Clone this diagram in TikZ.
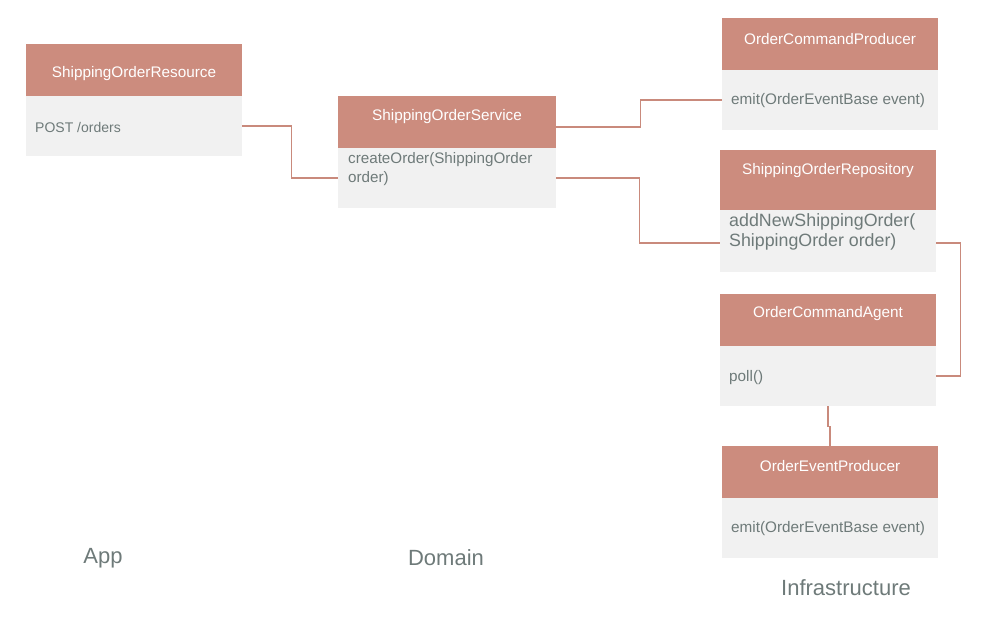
\documentclass[tikz,border=0pt]{standalone}
\usepackage{fontspec}
\setmainfont{Liberation Sans}
\usepackage{tikz}

\definecolor{headred}{HTML}{CC8C7E}
\definecolor{bodygrey}{HTML}{F1F1F1}
\definecolor{textgrey}{HTML}{6E7A79}
\definecolor{linkred}{HTML}{C98A7C}

\begin{document}
\begin{tikzpicture}[x=1pt,y=-1pt,
    head/.style={fill=headred,draw=none,anchor=north west,inner sep=0pt,minimum width=216pt},
    body/.style={fill=bodygrey,draw=none,anchor=north west,inner sep=0pt,minimum width=216pt},
    title/.style={text=white,font=\fontsize{15.3}{17}\selectfont},
    member/.style={text=textgrey,anchor=west,align=left,inner sep=0pt,font=\fontsize{14}{16}\selectfont},
    layer/.style={text=textgrey,font=\fontsize{22}{24}\selectfont},
    link/.style={draw=linkred,line width=1.6pt}]
            \useasboundingbox (0,0) rectangle (1004,632);

            % App
            \node[head,minimum height=52pt] (reshead) at (26,44) {};
            \node[body,minimum height=60pt] (resbody) at (26,96) {};
            \node[title] (restitle) at (134,74) {ShippingOrderResource};
            \node[member] (resop) at (35,127) {POST /orders};

            % Domain
            \node[head,minimum width=218pt,minimum height=52pt] (svchead) at (338,96) {};
            \node[body,minimum width=218pt,minimum height=60pt] (svcbody) at (338,148) {};
            \node[title] (svctitle) at (447,117) {ShippingOrderService};
            \node[member,font=\fontsize{15.2}{19}\selectfont] (svcop) at (348,169) {createOrder(ShippingOrder\\order)};

            % Infrastructure
            \node[head,minimum height=52pt] (cmdhead) at (722,18) {};
            \node[body,minimum height=60pt] (cmdbody) at (722,70) {};
            \node[title] (cmdtitle) at (830,39) {OrderCommandProducer};
            \node[member,font=\fontsize{15.3}{17}\selectfont] (cmdop) at (731,101) {emit(OrderEventBase event)};

            \node[head,minimum height=60pt] (repohead) at (720,150) {};
            \node[body,minimum height=62pt] (repobody) at (720,210) {};
            \node[title] (repotitle) at (828,171) {ShippingOrderRepository};
            \node[member,font=\fontsize{17.8}{20}\selectfont] (repoop) at (729,232) {addNewShippingOrder(\\ShippingOrder order)};

            \node[head,minimum height=52pt] (agenthead) at (720,294) {};
            \node[body,minimum height=60pt] (agentbody) at (720,346) {};
            \node[title] (agenttitle) at (828,314) {OrderCommandAgent};
            \node[member,font=\fontsize{15.3}{17}\selectfont] (agentop) at (729,378) {poll()};

            \node[head,minimum height=52pt] (evthead) at (722,446) {};
            \node[body,minimum height=60pt] (evtbody) at (722,498) {};
            \node[title] (evttitle) at (830,466) {OrderEventProducer};
            \node[member,font=\fontsize{15.3}{17}\selectfont] (evtop) at (731,529) {emit(OrderEventBase event)};

            % layers
            \node[layer] (applabel) at (103,558) {App};
            \node[layer] (domlabel) at (446,558) {Domain};
            \node[layer] (infralabel) at (846,588) {Infrastructure};

            % links
            \draw[link] (resbody.east) -- ++(49,0) |- (svcbody.west);
            \draw[link] ([yshift=-5pt]svchead.east) -- ++(84,0) |- (cmdbody.west);
            \draw[link] (svcbody.east) -- ++(83,0) |- ([yshift=-2pt]repobody.west);
            \draw[link] ([yshift=-2pt]repobody.east) -- ++(24,0) |- (agentbody.east);
            \draw[link] (agentbody.south) -- ++(0,20) -| (evthead.north);
             \end{tikzpicture}
\end{document}
